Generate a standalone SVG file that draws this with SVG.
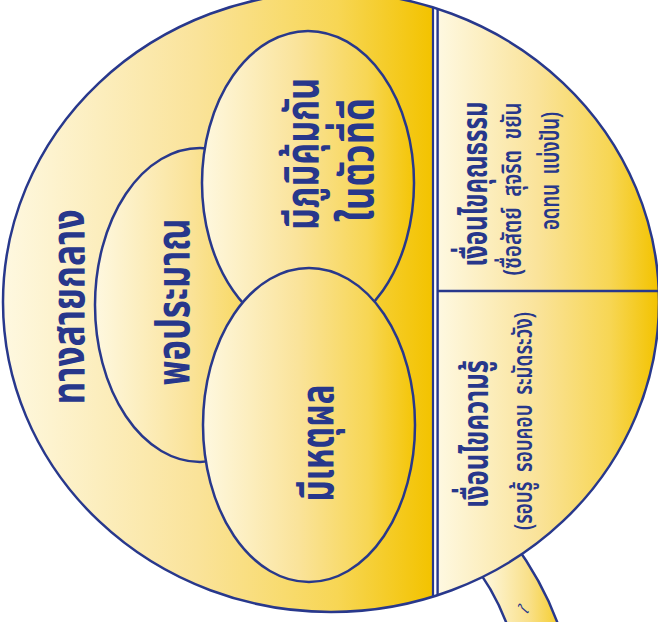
<svg xmlns="http://www.w3.org/2000/svg" width="658" height="622" viewBox="0 0 658 622">
<style>
.ln{stroke:#28388c;stroke-width:2.5;fill:none}
.t{font-family:"Noto Sans Thai","Noto Sans","Tahoma",sans-serif;fill:#27378b;font-weight:700;text-anchor:middle}
.big{font-size:46px}
.mid{font-size:35px}
.sub{font-size:26px;font-weight:600}
</style>
<defs>
<linearGradient id="gL" gradientUnits="userSpaceOnUse" x1="4" y1="0" x2="432" y2="0">
<stop offset="0" stop-color="#fef8e0"/><stop offset="0.45" stop-color="#fae39a"/><stop offset="0.78" stop-color="#f7d654"/><stop offset="1" stop-color="#f3c300"/>
</linearGradient>
<linearGradient id="gR" gradientUnits="userSpaceOnUse" x1="439" y1="0" x2="658" y2="0">
<stop offset="0" stop-color="#fef8e0"/><stop offset="0.45" stop-color="#fae39a"/><stop offset="0.78" stop-color="#f7d654"/><stop offset="1" stop-color="#f3c300"/>
</linearGradient>
<linearGradient id="gE" x1="0" y1="0" x2="1" y2="0">
<stop offset="0" stop-color="#fef8e0"/><stop offset="0.45" stop-color="#fae39a"/><stop offset="0.78" stop-color="#f7d654"/><stop offset="1" stop-color="#f4c506"/>
</linearGradient>
<linearGradient id="gH" gradientUnits="userSpaceOnUse" x1="482" y1="0" x2="560" y2="0">
<stop offset="0" stop-color="#fef8e0"/><stop offset="0.6" stop-color="#f9e08a"/><stop offset="1" stop-color="#f5cd2a"/>
</linearGradient>
<clipPath id="cc"><ellipse cx="331" cy="302" rx="328" ry="310"/></clipPath>
</defs>

<g id="handle">
<path d="M470,560 Q495,590 509,630 L560,630 Q545,585 512,540 Z" class="ln" style="fill:url(#gH)"/>
<text class="t" style="font-size:15px;font-style:italic;font-weight:400;text-anchor:start" transform="translate(527,615) rotate(-62)">ใ</text>
</g>

<g id="circle">
<ellipse cx="331" cy="302" rx="328" ry="310" fill="url(#gL)"/>
<g clip-path="url(#cc)">
<rect x="438" y="-10" width="230" height="640" fill="url(#gR)"/>
<rect x="433" y="-10" width="5" height="640" fill="#ffffff"/>
</g>
</g>

<g id="connectors" clip-path="url(#cc)">
<line x1="433" y1="-10" x2="433" y2="630" stroke="#28388c" stroke-width="2.2"/>
<line x1="437.6" y1="-10" x2="437.6" y2="630" stroke="#28388c" stroke-width="2.4"/>
<line x1="438" y1="291" x2="670" y2="291" stroke="#28388c" stroke-width="2.5"/>
</g>

<g id="node-moderation">
<ellipse cx="200" cy="305" rx="105" ry="157" class="ln" style="fill:url(#gE)"/>
<text class="t big" textLength="167" lengthAdjust="spacingAndGlyphs" transform="translate(189,302) rotate(-90)">พอประมาณ</text>
</g>

<g id="node-immunity">
<ellipse cx="308" cy="183" rx="106" ry="152" class="ln" style="fill:url(#gE)"/>
<text class="t big" textLength="152" lengthAdjust="spacingAndGlyphs" transform="translate(318,154) rotate(-90)">มีภูมิคุ้มกัน</text>
<text class="t big" textLength="124" lengthAdjust="spacingAndGlyphs" transform="translate(373,160) rotate(-90)">ในตัวที่ดี</text>
</g>

<g id="node-reason">
<ellipse cx="309" cy="425" rx="106" ry="157" class="ln" style="fill:url(#gE)"/>
<text class="t big" textLength="117" lengthAdjust="spacingAndGlyphs" transform="translate(333,443) rotate(-90)">มีเหตุผล</text>
</g>

<g id="node-middle-path">
<text class="t big" textLength="195" lengthAdjust="spacingAndGlyphs" transform="translate(84,307) rotate(-90)">ทางสายกลาง</text>
</g>

<g id="node-virtue">
<text class="t mid" textLength="165" lengthAdjust="spacingAndGlyphs" transform="translate(487,184) rotate(-90)">เงื่อนไขคุณธรรม</text>
<text class="t sub" textLength="173" lengthAdjust="spacingAndGlyphs" transform="translate(521,189) rotate(-90)" xml:space="preserve">(ซื่อสัตย์  สุจริต  ขยัน</text>
<text class="t sub" textLength="118" lengthAdjust="spacingAndGlyphs" transform="translate(559,171) rotate(-90)" xml:space="preserve">อดทน  แบ่งปัน)</text>
</g>

<g id="node-knowledge">
<text class="t mid" textLength="148" lengthAdjust="spacingAndGlyphs" transform="translate(488,434) rotate(-90)">เงื่อนไขความรู้</text>
<text class="t sub" textLength="218" lengthAdjust="spacingAndGlyphs" transform="translate(532,421) rotate(-90)" xml:space="preserve">(รอบรู้  รอบคอบ  ระมัดระวัง)</text>
</g>

<ellipse id="outline" cx="331" cy="302" rx="328" ry="310" class="ln"/>
</svg>
